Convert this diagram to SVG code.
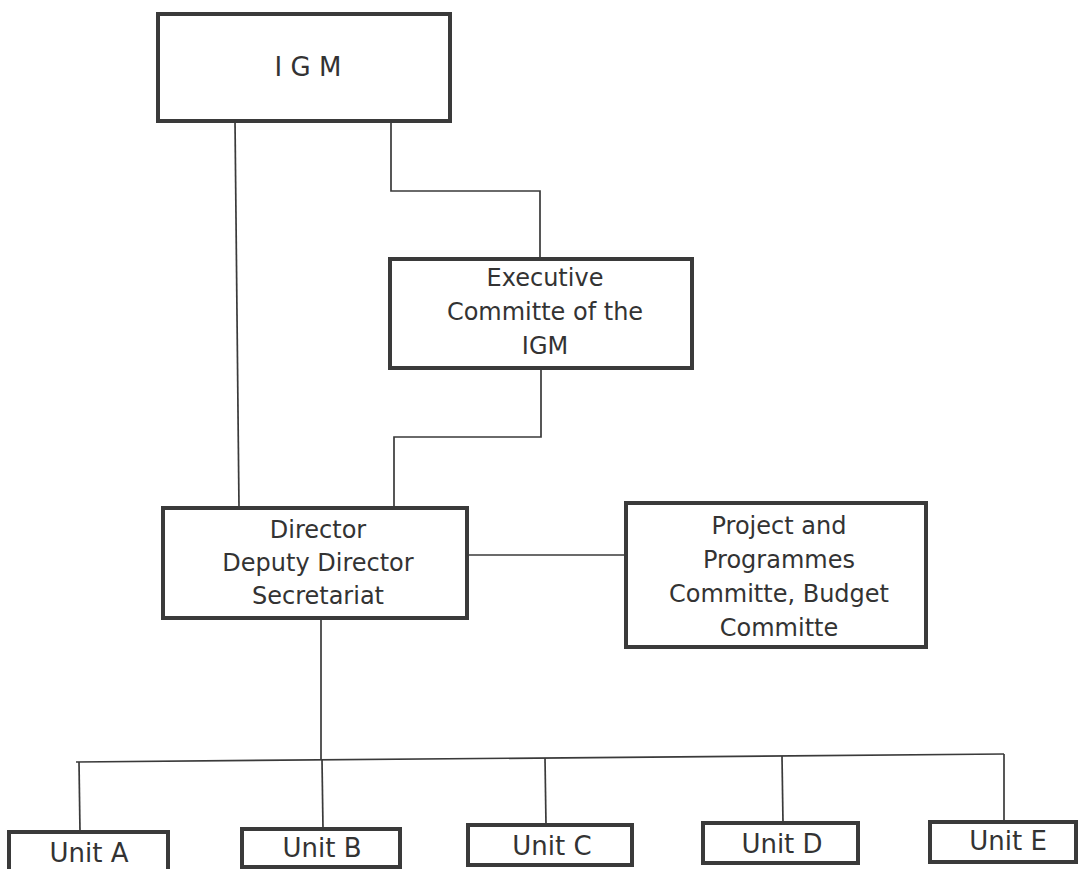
<svg xmlns="http://www.w3.org/2000/svg" width="1078" height="869" viewBox="0 0 1078 869">
  <style>
    .box { fill: #ffffff; stroke: #3a3a3a; stroke-width: 4; }
    .conn { fill: none; stroke: #3a3a3a; stroke-width: 1.7; }
    .t { font-family: "DejaVu Sans", "Liberation Sans", sans-serif; font-size: 24px; fill: #333333; text-anchor: middle; }
    .u { font-size: 26px; }
  </style>
  <rect width="1078" height="869" fill="#ffffff"/>
  <g id="connectors">
    <polyline class="conn" points="235,121 239,508"/>
    <polyline class="conn" points="391,121 391,191 540,191 540,259"/>
    <polyline class="conn" points="541,368 541,437 394,437 394,508"/>
    <polyline class="conn" points="467,555 626,555"/>
    <polyline class="conn" points="321,618 321,760"/>
    <polyline class="conn" points="76,762 1004,754"/>
    <polyline class="conn" points="79,762 80,832"/>
    <polyline class="conn" points="322,760 323,829"/>
    <polyline class="conn" points="545,758 546,825"/>
    <polyline class="conn" points="782,756 783,823"/>
    <polyline class="conn" points="1004,754 1004,822"/>
  </g>
  <g id="igm">
    <rect class="box" x="158" y="14" width="292" height="107"/>
    <text class="t" x="308" y="76" style="font-size:26px">I G M</text>
  </g>
  <g id="executive">
    <rect class="box" x="390" y="259" width="302" height="109"/>
    <text class="t" x="545" y="286">Executive</text>
    <text class="t" x="545" y="320">Committe of the</text>
    <text class="t" x="545" y="354">IGM</text>
  </g>
  <g id="director">
    <rect class="box" x="163" y="508" width="304" height="110"/>
    <text class="t" x="318" y="538">Director</text>
    <text class="t" x="318" y="571">Deputy Director</text>
    <text class="t" x="318" y="604">Secretariat</text>
  </g>
  <g id="project">
    <rect class="box" x="626" y="503" width="300" height="144"/>
    <text class="t" x="779" y="534">Project and</text>
    <text class="t" x="779" y="568">Programmes</text>
    <text class="t" x="779" y="602">Committe, Budget</text>
    <text class="t" x="779" y="636">Committe</text>
  </g>
  <g id="unit-a">
    <rect class="box" x="9" y="832" width="159" height="40"/>
    <text class="t u" x="89" y="862">Unit A</text>
  </g>
  <g id="unit-b">
    <rect class="box" x="242" y="829" width="158" height="38"/>
    <text class="t u" x="322" y="857">Unit B</text>
  </g>
  <g id="unit-c">
    <rect class="box" x="468" y="825" width="164" height="40"/>
    <text class="t u" x="552" y="855">Unit C</text>
  </g>
  <g id="unit-d">
    <rect class="box" x="703" y="823" width="155" height="40"/>
    <text class="t u" x="782" y="853">Unit D</text>
  </g>
  <g id="unit-e">
    <rect class="box" x="930" y="822" width="146" height="40"/>
    <text class="t u" x="1008" y="850">Unit E</text>
  </g>
</svg>
